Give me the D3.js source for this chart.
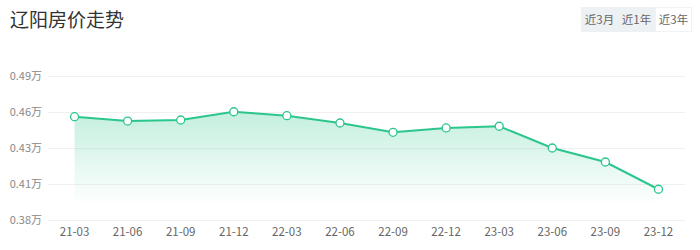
<!DOCTYPE html>
<html>
<head>
<meta charset="utf-8">
<script src="https://cdn.jsdelivr.net/npm/d3@7"></script>
<style>
	body { margin: 0; background: #fff; font-family: "Noto Sans CJK SC", "Noto Sans", sans-serif; }
	svg { display: block; }
</style>
</head>
<body>
<svg id="chart" width="700" height="250"></svg>
<script>
var title = "辽阳房价走势";
var periods = ["近3月", "近1年", "近3年"];
var months = ["21-03","21-06","21-09","21-12","22-03","22-06","22-09","22-12","23-03","23-06","23-09","23-12"];
var prices = [0.4589, 0.4556, 0.4564, 0.4627, 0.4597, 0.4541, 0.4470, 0.4503, 0.4516, 0.4350, 0.4243, 0.4035];
var tickValues = [0.38, 0.4075, 0.435, 0.4625, 0.49];
var tickLabels = ["0.38万", "0.41万", "0.43万", "0.46万", "0.49万"];

function drawChart()
{
	var svg = d3.select("#chart");
	var lineColor = "#2bc68c";
	var plotLeft = 48, plotRight = 685, plotTop = 76, plotBottom = 220;

	svg.append("text")
		.attr("x", 10)
		.attr("y", 27)
		.style("font-size", "19px")
		.style("fill", "#333")
		.text(title);

	// period switch
	var btnW = 37, btnX = 581;
	svg.append("rect")
		.attr("x", btnX).attr("y", 7)
		.attr("width", btnW * 2).attr("height", 25)
		.style("fill", "#eef1f4");
	svg.append("rect")
		.attr("x", btnX + btnW * 2 + 0.5).attr("y", 7.5)
		.attr("width", btnW - 1).attr("height", 24)
		.style("fill", "#fff").style("stroke", "#f0f2f4");
	svg.selectAll(".btn")
		.data(periods)
		.enter()
		.append("text")
		.attr("class", "btn")
		.attr("x", function(d, i) { return btnX + btnW * i + btnW / 2; })
		.attr("y", 23.5)
		.style("text-anchor", "middle")
		.style("font-size", "11.5px")
		.style("fill", "#666")
		.text(function(d) { return d; });

	var x = d3.scalePoint().domain(months).range([plotLeft, plotRight]).padding(0.5);
	var y = d3.scaleLinear().domain([0.38, 0.49]).range([plotBottom, plotTop]);

	// grid
	svg.selectAll(".grid")
		.data(tickValues)
		.enter()
		.append("line")
		.attr("x1", plotLeft).attr("x2", plotRight)
		.attr("y1", function(d) { return Math.round(y(d)) + 0.5; })
		.attr("y2", function(d) { return Math.round(y(d)) + 0.5; })
		.style("stroke", "#f0f0f0");

	svg.selectAll(".ylab")
		.data(tickValues)
		.enter()
		.append("text")
		.attr("x", 42)
		.attr("y", function(d) { return y(d); })
		.attr("dy", ".35em")
		.style("text-anchor", "end")
		.style("font-size", "11px")
		.style("fill", "#888")
		.text(function(d, i) { return tickLabels[i]; });

	svg.selectAll(".xlab")
		.data(months)
		.enter()
		.append("text")
		.attr("x", function(d) { return x(d); })
		.attr("y", 236)
		.style("text-anchor", "middle")
		.style("font-size", "11.5px")
		.style("fill", "#666")
		.text(function(d) { return d; });

	var grad = svg.append("defs").append("linearGradient")
		.attr("id", "fade")
		.attr("x1", 0).attr("y1", 0).attr("x2", 0).attr("y2", 1);
	grad.append("stop").attr("offset", "0%").style("stop-color", lineColor).style("stop-opacity", 0.28);
	grad.append("stop").attr("offset", "100%").style("stop-color", lineColor).style("stop-opacity", 0);

	var pts = months.map(function(m, i) { return [m, prices[i]]; });

	svg.append("path")
		.datum(pts)
		.attr("d", d3.area()
			.x(function(d) { return x(d[0]); })
			.y0(plotBottom - 15)
			.y1(function(d) { return y(d[1]); }))
		.style("fill", "url(#fade)");

	svg.append("path")
		.datum(pts)
		.attr("d", d3.line()
			.x(function(d) { return x(d[0]); })
			.y(function(d) { return y(d[1]); }))
		.style("fill", "none")
		.style("stroke", lineColor)
		.style("stroke-width", 2);

	svg.selectAll(".dot")
		.data(pts)
		.enter()
		.append("circle")
		.attr("cx", function(d) { return x(d[0]); })
		.attr("cy", function(d) { return y(d[1]); })
		.attr("r", 4)
		.style("fill", "#fff")
		.style("stroke", lineColor)
		.style("stroke-width", 1.3);
}

drawChart();
</script>
</body>
</html>
